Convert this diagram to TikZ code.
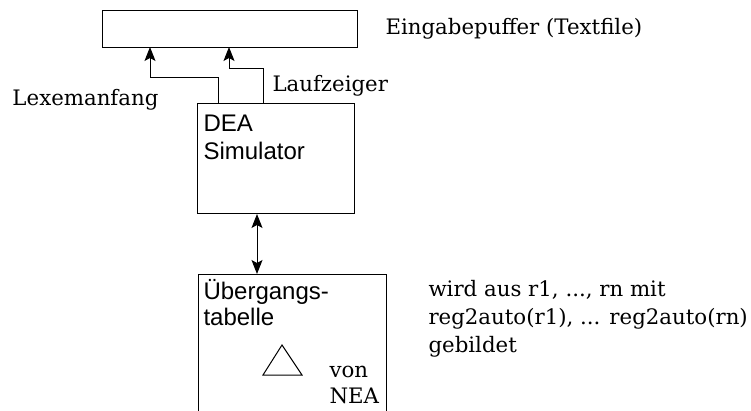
\documentclass[tikz,border=0pt]{standalone}
\usepackage{fontspec}
\setmainfont{DejaVu Serif}
\setsansfont{Liberation Sans}
\usetikzlibrary{arrows.meta}
\begin{document}
\begin{tikzpicture}[x=1pt,y=-1pt,
  line width=1pt,
  box/.style={draw, line width=1pt},
  head/.tip={Stealth[length=14pt,width=11pt,inset=3pt]},
  tip/.style={-head},
  serif/.style={font=\fontsize{21.3}{26}\selectfont, inner sep=0pt, anchor=base west},
  sans/.style={font=\sffamily\fontsize{24}{28}\selectfont, inner sep=0pt, anchor=base west}]
\useasboundingbox (0,0) rectangle (751,411);

% input buffer
\node[box, minimum width=255pt, minimum height=37pt, inner sep=0pt, anchor=north west] (buf) at (102,10) {};
\node[serif] (buflabel) at (385,35) {Eingabepuffer (Textfile)};

% simulator
\node[box, minimum width=157pt, minimum height=110pt, inner sep=0pt, anchor=north west] (dea) at (197,103) {};
\node[sans] (dealabel) at (203,132) {DEA};
\node[sans] (simlabel) at (203,160) {Simulator};

% transition table (runs off the bottom edge)
\coordinate (tabtl) at (198,274);
\coordinate (tabtr) at (386,274);
\draw (198,420) -- (tabtl) -- (tabtr) -- (386,420);
\node[sans] (tablabel) at (203,299) {Übergangs-};
\node[sans] (tablabel2) at (203,325) {tabelle};
\coordinate (tria) at (282,345);
\coordinate (trib) at (263,375);
\coordinate (tric) at (302,375);
\draw (tria) -- (trib) -- (tric) -- cycle;
\node[serif] (von) at (329,377) {von};
\node[serif] (nea) at (329,403) {NEA};

% pointers into the buffer
\coordinate (lexfoot) at (218,103);
\coordinate (laufoot) at (263,103);
\draw[tip] (lexfoot) -- (218,78) -- (150,78) -- (150,47);
\draw[tip] (laufoot) -- (263,69) -- (229,69) -- (229,47);
\node[serif] (lex) at (12,106) {Lexemanfang};
\node[serif] (lauf) at (272,92) {Laufzeiger};

% simulator <-> table
\draw[head-head] (257,214) -- (257,274);

% note
\node[serif] (n1) at (428,296) {wird aus r1, ..., rn mit};
\node[serif] (n2) at (428,324) {reg2auto(r1), ... reg2auto(rn)};
\node[serif] (n3) at (428,352) {gebildet};
\end{tikzpicture}
\end{document}
